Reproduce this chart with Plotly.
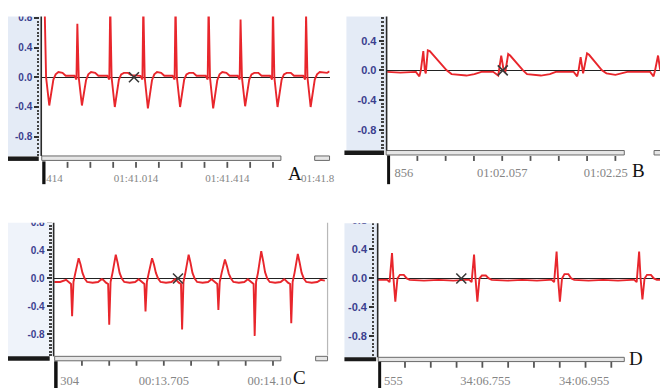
import plotly.graph_objects as go

# ---------------- data (time in ms from panel origin, amplitude) ----------------
A_ms = [-13, 0, 6, 20, 38, 48, 60, 78, 92, 118,
        130, 139, 143, 149, 163, 181, 191, 203, 221, 235, 261,
        274, 283, 287, 293, 307, 325, 335, 347, 365, 379, 405,
        419, 428, 432, 438, 452, 470, 480, 492, 510, 524, 550,
        560, 569, 573, 579, 593, 611, 621, 633, 651, 665, 692,
        705, 714, 718, 724, 738, 756, 766, 778, 796, 810, 836,
        845, 854, 858, 864, 878, 896, 906, 918, 936, 950, 976,
        987, 996, 1000, 1006, 1020, 1038, 1048, 1060, 1078, 1092, 1118,
        1132, 1141, 1145, 1151, 1165, 1183, 1193, 1205, 1223, 1237, 1248]
A_val = [1.0, 0.9, 0.0, -0.38, -0.03, 0.04, 0.07, 0.06, 0.02, 0.02,
         0.02, -0.03, 0.72, 0.0, -0.38, -0.04, 0.04, 0.07, 0.06, 0.02, 0.02,
         0.02, -0.03, 1.0, 0.0, -0.40, -0.03, 0.04, 0.06, 0.06, 0.03, 0.03,
         0.02, -0.03, 1.0, 0.0, -0.42, -0.04, 0.04, 0.07, 0.06, 0.02, 0.02,
         0.02, -0.03, 1.0, 0.0, -0.40, -0.03, 0.04, 0.06, 0.06, 0.02, 0.02,
         0.02, -0.03, 1.0, 0.0, -0.42, -0.04, 0.04, 0.07, 0.06, 0.02, 0.02,
         0.02, -0.03, 0.78, 0.0, -0.39, -0.03, 0.04, 0.06, 0.06, 0.02, 0.02,
         0.02, -0.03, 0.95, 0.0, -0.40, -0.03, 0.04, 0.06, 0.06, 0.02, 0.02,
         0.02, -0.03, 0.85, 0.0, -0.40, -0.03, 0.04, 0.07, 0.07, 0.06, 0.08]
A_mark = [391]
A_tickvals = [43, 400, 800, 1196]
A_ticktext = ["414", "01:41.014", "01:41.414", "01:41.8"]
A_tick_marks = [100, 200, 300, 400, 500, 600, 700, 800, 900, 1000]

B_ms = [-3.5, 20, 47.6, 53.8, 56.4, 60.8, 63.5, 65.2, 68.8, 72.3, 102.3, 111, 137.5, 151.6, 164,
        185, 193.9, 199.2, 203.6, 206.3, 211.6, 215.1, 238, 245, 269.7, 285.6, 296.2,
        315, 327.9, 334.1, 336.7, 340.3, 344.7, 351.7, 355.3, 378.2, 386.1, 402, 414.3, 423.1,
        445, 463.7, 469.8, 472.5, 477.8, 481.3, 484.8, 486.6]
B_val = [-0.02, -0.03, -0.02, -0.08, 0.0, 0.26, 0.0, -0.04, 0.27, 0.26, 0.0, -0.05, -0.07, -0.05, -0.02,
         -0.02, -0.07, 0.20, 0.0, -0.03, 0.22, 0.20, 0.0, -0.05, -0.07, -0.05, -0.02,
         -0.02, -0.02, -0.08, 0.0, 0.18, -0.04, 0.23, 0.21, 0.0, -0.04, -0.06, -0.04, -0.02,
         -0.02, -0.02, -0.08, 0.0, 0.20, 0.02, -0.03, 0.05]
B_mark = [202]
B_tickvals = [26.4, 201, 385]
B_ticktext = ["856", "01:02.057", "01:02.25"]
B_tick_marks = [50.25, 100.5, 150.75, 201, 251.25, 301.5, 351.75, 402]

C_ms = [-1.8, 20,
        42, 52, 60, 64, 69, 76, 88, 95, 102, 110, 119, 139, 159, 172,
        178, 188, 196, 200, 205, 212, 224, 231, 238, 246, 255, 275, 295, 308,
        311, 321, 329, 333, 338, 345, 357, 364, 371, 379, 388, 408, 428, 441,
        445, 455, 463, 467, 472, 479, 491, 498, 505, 513, 522, 542, 562, 575,
        578, 588, 596, 600, 605, 612, 624, 631, 638, 646, 655, 675, 695, 708,
        711, 721, 729, 733, 738, 745, 757, 764, 771, 779, 788, 808, 828, 841,
        845, 855, 863, 867, 872, 879, 891, 898, 905, 913, 922, 942, 962, 975, 990]
C_val = [-0.05, -0.05,
         -0.02, -0.06, -0.08, -0.54, -0.05, 0.08, 0.29, 0.20, 0.08, 0.0, -0.05, -0.06, -0.05, -0.01,
         -0.02, -0.06, -0.08, -0.66, -0.05, 0.08, 0.34, 0.22, 0.08, 0.0, -0.05, -0.06, -0.05, -0.01,
         -0.02, -0.06, -0.08, -0.47, -0.05, 0.08, 0.29, 0.20, 0.08, 0.0, -0.05, -0.06, -0.05, -0.01,
         -0.02, -0.06, -0.08, -0.73, -0.05, 0.08, 0.34, 0.22, 0.08, 0.0, -0.05, -0.06, -0.05, -0.01,
         -0.02, -0.06, -0.08, -0.45, -0.05, 0.08, 0.27, 0.18, 0.07, 0.0, -0.05, -0.06, -0.05, -0.01,
         -0.02, -0.06, -0.08, -0.82, -0.05, 0.08, 0.39, 0.25, 0.09, 0.0, -0.05, -0.06, -0.05, -0.01,
         -0.02, -0.06, -0.08, -0.64, -0.05, 0.08, 0.35, 0.22, 0.08, 0.0, -0.05, -0.06, -0.05, -0.02, -0.03]
C_mark = [452]
C_tickvals = [54.5, 400, 787]
C_ticktext = ["304", "00:13.705", "00:14.10"]
C_tick_marks = [100, 200, 300, 400, 500, 600, 700, 800]

D_ms = [-19.2, 0, 5, 10, 13, 16.7, 21, 26, 34, 40, 46, 75, 105, 135, 160,
        167, 172, 177, 180, 183.7, 188, 193, 201, 207, 213, 245, 275, 305, 330,
        335, 340, 345, 348, 351.7, 356, 361, 369, 375, 381, 410, 440, 470, 497,
        503, 508, 513, 516, 519.7, 524, 529, 537, 543, 549, 561.6]
D_val = [-0.02, -0.02, -0.05, 0.35, 0.0, -0.32, 0.0, 0.05, 0.05, 0.0, -0.02, -0.03, -0.02, -0.03, -0.02,
         -0.02, -0.05, 0.33, 0.0, -0.32, 0.0, 0.04, 0.04, 0.0, -0.02, -0.03, -0.02, -0.03, -0.02,
         -0.02, -0.05, 0.37, 0.0, -0.32, 0.0, 0.06, 0.06, 0.0, -0.02, -0.03, -0.02, -0.03, -0.02,
         -0.02, -0.05, 0.37, 0.0, -0.29, 0.0, 0.05, 0.05, 0.0, -0.02, -0.02]
D_mark = [151]
D_tickvals = [13, 200, 401]
D_ticktext = ["555", "34:06.755", "34:06.955"]
D_tick_marks = [36.4, 88.9, 141.4, 193.9, 246.4, 298.9, 351.4, 403.9, 456.4]

Y_tickvals = [-0.8, -0.4, 0.0, 0.4, 0.8]
Y_ticktext = ["-0.8", "-0.4", "0.0", "0.4", "0.8"]
panel_letters = ["A", "B", "C", "D"]

# ---------------- layout helpers ----------------
# the page body has an 8 px margin, so the figure is 660x380 placed at (8, 8);
# positions below are given in window pixels and converted here.
OFF = 8
W, H = 668 - OFF, 388 - OFF
def fx(p):
    return (p - OFF) / W
def fy(p):
    return 1 - (p - OFF) / H

RED = "#e8262c"

panels = [
    dict(ms=A_ms, val=A_val, mark=A_mark, tv=A_tickvals, tt=A_ticktext, tm=A_tick_marks,
         xdom=(42, 332), xr=(-13.0, 1247.8), ydom=(153.5, 12), yr=(-1.06, 0.8267),
         ypos=39.5, xpos=159.5, tlen=6, tfs=11, stand=8, yfs=10,
         letter=(297, 171)),
    dict(ms=B_ms, val=B_val, mark=B_mark, tv=B_tickvals, tt=B_ticktext, tm=B_tick_marks,
         xdom=(390, 668), xr=(-3.5, 486.6), ydom=(148, 12), yr=(-1.08, 0.7333),
         ypos=386.5, xpos=153.5, tlen=5, tfs=12.5, stand=8, yfs=11,
         letter=(643, 168)),
    dict(ms=C_ms, val=C_val, mark=C_mark, tv=C_tickvals, tt=C_ticktext, tm=C_tick_marks,
         xdom=(54.5, 330), xr=(-1.8, 1000.0), ydom=(356, 218), yr=(-1.112, 0.838),
         ypos=52, xpos=360.5, tlen=5, tfs=12.5, stand=11, yfs=10,
         letter=(302, 377)),
    dict(ms=D_ms, val=D_val, mark=D_mark, tv=D_tickvals, tt=D_ticktext, tm=D_tick_marks,
         xdom=(380.5, 668), xr=(-19.2, 561.6), ydom=(357, 217), yr=(-1.088, 0.823),
         ypos=377, xpos=361.5, tlen=6, tfs=12.5, stand=10, yfs=11,
         letter=(641, 358)),
]

fig = go.Figure()
layout = dict(width=W, height=H, margin=dict(l=0, r=0, t=0, b=0),
              paper_bgcolor="white", plot_bgcolor="white", showlegend=False)
shapes = []

def time_to_px(p, t):
    (d0, d1), (r0, r1) = p["xdom"], p["xr"]
    return d0 + (t - r0) / (r1 - r0) * (d1 - d0)

for i, p in enumerate(panels, start=1):
    xa, ya = (f"x{i}", f"y{i}") if i > 1 else ("x", "y")
    fig.add_trace(go.Scatter(x=p["ms"], y=p["val"], mode="lines", xaxis=xa, yaxis=ya,
                             line=dict(color=RED, width=1.9), hoverinfo="skip"))
    fig.add_trace(go.Scatter(x=p["mark"], y=[0] * len(p["mark"]), mode="markers", xaxis=xa, yaxis=ya,
                             marker=dict(symbol="x-thin", size=10, line=dict(color="#3a3a3a", width=1.6)),
                             hoverinfo="skip"))
    xkey = "xaxis" if i == 1 else f"xaxis{i}"
    ykey = "yaxis" if i == 1 else f"yaxis{i}"
    layout[xkey] = dict(domain=[fx(p["xdom"][0]), fx(p["xdom"][1])], range=list(p["xr"]),
                        anchor="free", position=fy(p["xpos"]),
                        showline=False, showgrid=False, zeroline=False,
                        tickmode="array", tickvals=p["tv"], ticktext=p["tt"], ticks="",
                        tickfont=dict(family="Liberation Serif", size=p["tfs"], color="#858585"),
                        ticklabelstandoff=p["stand"])
    layout[ykey] = dict(domain=[fy(p["ydom"][0]), fy(p["ydom"][1])], range=list(p["yr"]),
                        anchor="free", position=fx(p["ypos"]),
                        showline=False, showgrid=False,
                        zeroline=True, zerolinecolor="#222222", zerolinewidth=1.3,
                        tickmode="array", tickvals=Y_tickvals, ticktext=Y_ticktext,
                        ticks="outside", ticklen=5, tickwidth=1.5, tickcolor="#333333",
                        tickfont=dict(family="Liberation Sans", size=p["yfs"], color="#3b3f8f", weight="bold"),
                        minor=dict(dtick=0.05, tick0=0, ticks="outside", ticklen=2.5, tickwidth=2,
                                   tickcolor="#444444", showgrid=False))
    # time-axis tick marks below the scroll bar
    for t in p["tm"]:
        xp = fx(time_to_px(p, t))
        shapes.append(dict(type="rect", xref="paper", yref="paper",
                           x0=xp - 0.9 / W, x1=xp + 0.9 / W,
                           y0=fy(p["xpos"] + p["tlen"]), y1=fy(p["xpos"]),
                           fillcolor="#555555", line=dict(width=0), layer="above"))

def rect(x0, y0, x1, y1, fill, line=None, lw=0, layer="below"):
    shapes.append(dict(type="rect", xref="paper", yref="paper",
                       x0=fx(x0), x1=fx(x1), y0=fy(y1), y1=fy(y0),
                       fillcolor=fill, line=dict(color=line or fill, width=lw), layer=layer))
def vline(x, y0, y1, color, w):
    shapes.append(dict(type="line", xref="paper", yref="paper",
                       x0=fx(x), x1=fx(x), y0=fy(y0), y1=fy(y1),
                       line=dict(color=color, width=w), layer="above"))

# blue side panels
rect(8, 12, 41, 153.5, "#e4ebf6")
rect(349, 12, 389, 148, "#e4ebf6")
rect(8, 218, 53, 356, "#eff3fa")
rect(347, 217, 380, 357, "#e4ebf6")
# black horizontal bars
rect(8, 154, 39, 158.5, "#1a1a1a", layer="above")
rect(347, 148, 387, 152.5, "#1a1a1a", layer="above")
rect(8, 356, 50, 360.5, "#1a1a1a", layer="above")
rect(347, 357, 379, 361, "#1a1a1a", layer="above")
# grey scroll bars
for (a, b, c, d) in [(42, 153.5, 283, 158), (317, 153.5, 332, 158),
                     (389, 148, 629, 152.5), (659, 148, 668, 152.5),
                     (55, 356, 283, 360.5), (318, 356, 330, 360.5),
                     (381, 357, 629, 361.3)]:
    rect(a, b, c, d, "#e6e6e6", line="#6a6a6a", lw=1, layer="above")
# vertical black bars at x-axis start
rect(42.5, 159, 45.8, 182, "#111111", layer="above")
rect(390, 153, 393, 182, "#111111", layer="above")
rect(54.5, 361, 58, 388, "#111111", layer="above")
rect(381, 361.5, 384, 388, "#111111", layer="above")
# solid y axis lines
vline(41.5, 12, 153.5, "#2a2a2a", 1.6)
vline(389.5, 12, 148, "#2a2a2a", 1.6)
vline(54, 218, 356, "#2a2a2a", 1.6)
vline(380.5, 217, 357, "#2a2a2a", 1.6)
# right border of panel C
vline(330, 220, 355, "#b8b8b8", 1.2)
# white crop areas
rect(8, 8, 668, 12.5, "white", layer="above")
rect(8, 187, 334, 221, "white", layer="above")
rect(334, 187, 668, 221.5, "white", layer="above")

annotations = []
for letter, p in zip(panel_letters, panels):
    lx, ly = p["letter"]
    annotations.append(dict(text=letter, xref="paper", yref="paper", x=fx(lx), y=fy(ly),
                            xanchor="center", yanchor="middle", showarrow=False,
                            font=dict(family="Liberation Serif", size=19, color="#111111")))

layout["shapes"] = shapes
layout["annotations"] = annotations
fig.update_layout(**layout)
fig.write_html("out.html")
